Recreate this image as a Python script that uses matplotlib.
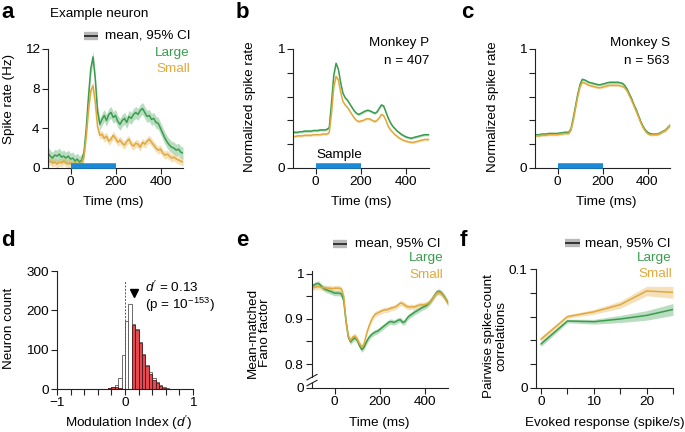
import matplotlib
matplotlib.use("Agg")
import matplotlib.pyplot as plt
from matplotlib.lines import Line2D
import matplotlib.transforms as mtransforms

plt.rcParams['font.family'] = ['Liberation Sans', 'DejaVu Sans']
plt.rcParams['mathtext.fontset'] = 'custom'
plt.rcParams['mathtext.rm'] = 'Liberation Sans'
plt.rcParams['mathtext.it'] = 'Liberation Sans:italic'
plt.rcParams['font.size'] = 9.7
plt.rcParams['axes.unicode_minus'] = True

FS = 9.7
GREEN = "#3a9d4d"
GOLD = "#e0a93c"
BLUE = "#1b8ad6"

# ---------------- data ----------------
time_ms = list(range(-100, 501, 10))
sample_window = [0, 200]

# a: example neuron (Hz)
a_large = [1.5, 1.2, 1.0, 1.3, 1.2, 1.4, 1.1, 1.2, 1.0, 1.2, 0.9, 1.0, 0.7, 0.9, 0.6, 0.8,
           1.6, 4.0, 7.2, 10.0, 11.2, 9.0, 5.8, 4.4, 4.9, 5.3, 4.8, 5.4, 5.6, 5.1, 5.3,
           4.7, 4.4, 4.8, 5.0, 4.6, 5.2, 5.0, 5.4, 5.6, 5.4, 5.8, 6.0, 5.6, 5.2, 5.3,
           4.9, 5.0, 4.6, 4.5, 4.0, 3.5, 3.0, 2.6, 2.3, 2.1, 2.0, 1.8, 1.9, 1.6, 1.5]
a_small = [0.5, 0.7, 0.5, 0.6, 0.4, 0.6, 0.5, 0.7, 0.5, 0.4, 0.5, 0.3, 0.6, 0.4, 0.3, 0.5,
           1.2, 3.2, 5.8, 7.8, 8.3, 6.6, 4.2, 3.3, 3.4, 3.0, 3.2, 2.7, 2.9, 3.3, 3.0,
           2.6, 2.8, 2.5, 2.3, 2.7, 2.9, 2.4, 2.2, 2.5, 2.4, 2.1, 2.6, 2.4, 2.7, 2.9,
           2.6, 2.3, 2.0, 1.8, 1.9, 1.5, 1.3, 1.4, 1.2, 1.0, 1.1, 0.9, 0.8, 0.7, 0.6]
a_ci_large = 0.6
a_ci_small = 0.4

# b: monkey P (normalized)
b_large = [0.30, 0.30, 0.30, 0.305, 0.305, 0.31, 0.31, 0.31, 0.31, 0.315, 0.315, 0.315,
           0.32, 0.32, 0.32, 0.325, 0.34, 0.55, 0.78, 0.88, 0.83, 0.72, 0.63, 0.59, 0.57,
           0.54, 0.51, 0.48, 0.46, 0.45, 0.46, 0.47, 0.48, 0.485, 0.48, 0.47, 0.46, 0.47,
           0.50, 0.53, 0.52, 0.47, 0.42, 0.38, 0.35, 0.33, 0.31, 0.295, 0.28, 0.27, 0.26,
           0.255, 0.25, 0.255, 0.26, 0.265, 0.27, 0.275, 0.28, 0.28, 0.28]
b_small = [0.265, 0.265, 0.27, 0.27, 0.27, 0.275, 0.275, 0.275, 0.275, 0.28, 0.28, 0.28,
           0.28, 0.285, 0.285, 0.285, 0.30, 0.46, 0.68, 0.77, 0.74, 0.64, 0.56, 0.53, 0.51,
           0.48, 0.45, 0.42, 0.40, 0.39, 0.395, 0.40, 0.41, 0.415, 0.41, 0.40, 0.39, 0.40,
           0.42, 0.45, 0.44, 0.40, 0.35, 0.32, 0.30, 0.28, 0.265, 0.25, 0.24, 0.23, 0.225,
           0.22, 0.215, 0.215, 0.22, 0.225, 0.23, 0.235, 0.24, 0.24, 0.24]
b_ci = 0.01

# c: monkey S (normalized)
c_large = [0.28, 0.28, 0.28, 0.285, 0.285, 0.285, 0.29, 0.29, 0.29, 0.29, 0.29, 0.295,
           0.295, 0.30, 0.30, 0.30, 0.33, 0.42, 0.52, 0.62, 0.70, 0.745, 0.74, 0.73, 0.72,
           0.715, 0.71, 0.705, 0.70, 0.70, 0.705, 0.71, 0.715, 0.72, 0.72, 0.72, 0.72, 0.72,
           0.715, 0.71, 0.69, 0.66, 0.62, 0.58, 0.53, 0.49, 0.44, 0.39, 0.35, 0.32, 0.30,
           0.29, 0.285, 0.285, 0.285, 0.29, 0.30, 0.31, 0.32, 0.34, 0.36]
c_small = [0.27, 0.27, 0.27, 0.275, 0.275, 0.275, 0.28, 0.28, 0.28, 0.28, 0.28, 0.285,
           0.285, 0.29, 0.29, 0.29, 0.32, 0.40, 0.50, 0.60, 0.68, 0.72, 0.715, 0.705, 0.695,
           0.69, 0.685, 0.68, 0.675, 0.675, 0.68, 0.685, 0.69, 0.695, 0.695, 0.695, 0.695,
           0.695, 0.69, 0.685, 0.67, 0.645, 0.605, 0.565, 0.52, 0.475, 0.43, 0.38, 0.34,
           0.31, 0.29, 0.28, 0.28, 0.28, 0.28, 0.285, 0.295, 0.305, 0.315, 0.335, 0.355]
c_ci = 0.01

# d: modulation index histogram
d_bin_left = [-0.25, -0.2, -0.15, -0.1, -0.05, 0.0, 0.05, 0.1, 0.15, 0.2, 0.25, 0.3,
              0.35, 0.4, 0.45, 0.5, 0.55, 0.6]
d_all = [2, 5, 9, 28, 86, 173, 216, 165, 152, 120, 90, 62, 42, 28, 17, 10, 5, 3]
d_sig = [2, 5, 6, 3, 0, 0, 0, 163, 150, 117, 86, 58, 38, 24, 14, 8, 3, 1]
d_bin_width = 0.05
d_mean = 0.13

# e: mean-matched Fano factor
e_large = [0.972, 0.975, 0.978, 0.978, 0.973, 0.968, 0.965, 0.963, 0.961, 0.959, 0.957,
           0.957, 0.957, 0.955, 0.94, 0.895, 0.86, 0.849, 0.855, 0.858, 0.852, 0.84, 0.832,
           0.838, 0.849, 0.858, 0.864, 0.868, 0.871, 0.873, 0.877, 0.881, 0.885, 0.889,
           0.893, 0.894, 0.892, 0.894, 0.897, 0.898, 0.892, 0.894, 0.902, 0.907, 0.91,
           0.914, 0.917, 0.92, 0.923, 0.926, 0.928, 0.932, 0.937, 0.944, 0.952, 0.959,
           0.961, 0.958, 0.952, 0.944, 0.935]
e_small = [0.969, 0.97, 0.971, 0.971, 0.97, 0.969, 0.969, 0.968, 0.968, 0.967, 0.968,
           0.968, 0.968, 0.966, 0.95, 0.895, 0.862, 0.852, 0.86, 0.862, 0.855, 0.845, 0.837,
           0.845, 0.866, 0.882, 0.895, 0.905, 0.911, 0.913, 0.916, 0.918, 0.92, 0.92,
           0.922, 0.924, 0.925, 0.927, 0.931, 0.935, 0.934, 0.93, 0.927, 0.926, 0.927,
           0.926, 0.928, 0.93, 0.931, 0.931, 0.932, 0.934, 0.938, 0.944, 0.951, 0.957,
           0.959, 0.956, 0.95, 0.943, 0.934]
e_ci = 0.006
e_floor = 0.747   # bottom of broken axis, labelled "0"

# f: pairwise correlations
f_rate = [0, 5, 10, 15, 20, 25]
f_large = [0.037, 0.0563, 0.0557, 0.058, 0.061, 0.066]
f_small = [0.041, 0.060, 0.064, 0.070, 0.0815, 0.0804]
f_ci = [0.0022, 0.0015, 0.002, 0.003, 0.004, 0.005]

# ---------------- figure ----------------
W, H = 685, 432
fig = plt.figure(figsize=(W / 100, H / 100), dpi=100)


def px(x, y):
    return x / W, 1 - y / H


def add_ax(left, right, top, bottom):
    ax = fig.add_axes([left / W, 1 - bottom / H, (right - left) / W, (bottom - top) / H])
    for s in ("top", "right"):
        ax.spines[s].set_visible(False)
    for s in ("left", "bottom"):
        ax.spines[s].set_linewidth(0.8)
        ax.spines[s].set_color("#222222")
    ax.tick_params(direction="out", length=4, width=0.8, pad=2, labelsize=FS,
                   color="#222222")
    return ax


def ftext(x, y, s, **kw):
    kw.setdefault("fontsize", FS)
    fig.text(*px(x, y), s, **kw)


def band(ax, x, y, ci, color):
    cis = ci if isinstance(ci, list) else [ci] * len(y)
    lo = [v - c for v, c in zip(y, cis)]
    hi = [v + c for v, c in zip(y, cis)]
    ax.fill_between(x, lo, hi, color=color, alpha=0.35, lw=0)
    ax.plot(x, y, color=color, lw=1.1)


def sample_bar(ax):
    tr = mtransforms.offset_copy(ax.transData, fig=fig, y=2, units="dots")
    ax.plot(sample_window, [0, 0], color=BLUE, lw=4, solid_capstyle="butt",
            transform=tr, clip_on=False, zorder=5)


def legend_ci(x0, x1, y, tx, tx_end, ly, sy):
    fig.add_artist(Line2D([x0 / W, x1 / W], [1 - y / H] * 2, color="#b8b8b8", lw=6,
                          solid_capstyle="butt"))
    fig.add_artist(Line2D([x0 / W, x1 / W], [1 - y / H] * 2, color="#333333", lw=1.4,
                          solid_capstyle="butt"))
    ftext(tx, y, "mean, 95% CI", ha="left", va="center")
    ftext(tx_end, ly, "Large", ha="right", va="center", color=GREEN)
    ftext(tx_end, sy, "Small", ha="right", va="center", color=GOLD)


# panel letters
for letter, (lx, ly) in zip("abcdef", [(1, 12), (236, 12), (461, 12),
                                       (1, 240), (236, 240), (460, 240)]):
    ftext(lx, ly, letter, fontsize=16, fontweight="bold", ha="left", va="center")

# ---- a ----
ax = add_ax(48, 183, 49, 168)
band(ax, time_ms, a_large, a_ci_large, GREEN)
band(ax, time_ms, a_small, a_ci_small, GOLD)
sample_bar(ax)
ax.set_xlim(-100, 500)
ax.set_ylim(0, 12)
ax.set_xticks([0, 200, 400])
ax.set_yticks([0, 4, 8, 12])
ftext(50, 14, "Example neuron", ha="left", va="center")
legend_ci(84, 98, 36, 105, 190, 53, 69)
ftext(9, 99, "Spike rate (Hz)", rotation=90, ha="center", va="center")
ftext(113, 202, "Time (ms)", ha="center", va="center")

# ---- b ----
ax = add_ax(293, 429, 49, 168)
band(ax, time_ms, b_large, b_ci, GREEN)
band(ax, time_ms, b_small, b_ci, GOLD)
sample_bar(ax)
ax.set_xlim(-100, 500)
ax.set_ylim(0, 1)
ax.set_xticks([0, 200, 400])
ax.set_yticks([0, 0.2, 0.4, 0.6, 0.8, 1.0])
ax.set_yticklabels(["0", "", "", "", "", "1"])
ax.text(105, 0.11, "Sample", ha="center", va="center")
ftext(429, 43, "Monkey P", ha="right", va="center")
ftext(429, 61, "n = 407", ha="right", va="center")
ftext(250, 107, "Normalized spike rate", rotation=90, ha="center", va="center")
ftext(361, 202, "Time (ms)", ha="center", va="center")

# ---- c ----
ax = add_ax(535, 670, 49, 168)
band(ax, time_ms, c_large, c_ci, GREEN)
band(ax, time_ms, c_small, c_ci, GOLD)
sample_bar(ax)
ax.set_xlim(-100, 500)
ax.set_ylim(0, 1)
ax.set_xticks([0, 200, 400])
ax.set_yticks([0, 0.2, 0.4, 0.6, 0.8, 1.0])
ax.set_yticklabels(["0", "", "", "", "", "1"])
ftext(670, 43, "Monkey S", ha="right", va="center")
ftext(670, 61, "n = 563", ha="right", va="center")
ftext(493, 107, "Normalized spike rate", rotation=90, ha="center", va="center")
ftext(606, 202, "Time (ms)", ha="center", va="center")

# ---- d ----
ax = add_ax(57, 193, 271, 389)
ax.bar(d_bin_left, d_all, width=d_bin_width, align="edge", color="white",
       edgecolor="#555555", lw=0.6)
ax.bar(d_bin_left, d_sig, width=d_bin_width, align="edge", color="#e34a50",
       edgecolor="#3a1010", lw=0.5)
ax.plot([0, 0], [0, 275], ls=(0, (2, 1.5)), color="#555555", lw=0.7)
ax.plot([d_mean], [243], marker="v", color="black", ms=6, ls="none")
ax.text(0.29, 258, "$d'$ = 0.13", ha="left", va="center")
ax.text(0.29, 215, "(p = 10$^{-153}$)", ha="left", va="center")
ax.set_xlim(-1, 1)
ax.set_ylim(0, 300)
ax.set_xticks([-1, -0.8, -0.6, -0.4, -0.2, 0, 0.2, 0.4, 0.6, 0.8, 1])
ax.set_xticklabels(["\u22121", "", "", "", "", "0", "", "", "", "", "1"])
ax.set_yticks([0, 100, 200, 300])
ftext(9, 328, "Neuron count", rotation=90, ha="center", va="center")
ftext(129, 423, "Modulation Index ($d'$)", ha="center", va="center")

# ---- e ----
ax = add_ax(312, 448, 271, 388)
band(ax, time_ms, e_large, e_ci, GREEN)
band(ax, time_ms, e_small, e_ci, GOLD)
ax.set_xlim(-100, 500)
ax.set_ylim(e_floor, 1.006)
ax.set_xticks([0, 200, 400])
ax.set_yticks([e_floor, 0.8, 0.85, 0.9, 0.95, 1.0])
ax.set_yticklabels(["0", "0.8", "", "0.9", "", "1"])
# axis break
ax.spines["left"].set_bounds(0.771, 1.006)
ax.plot([-100, -100], [e_floor, 0.758], color="#222222", lw=0.8, clip_on=False)
for yb in (0.771, 0.758):
    ax.plot([-122, -78], [yb - 0.006, yb + 0.006], color="#222222", lw=0.8,
            clip_on=False)
legend_ci(333, 347, 244, 355, 443, 258, 275)
ftext(259, 333, "Mean-matched\nFano factor", rotation=90, ha="center", va="center",
      linespacing=1.05)
ftext(379, 423, "Time (ms)", ha="center", va="center")

# ---- f ----
ax = add_ax(536, 673, 269, 388)
band(ax, f_rate, f_large, f_ci, GREEN)
band(ax, f_rate, f_small, f_ci, GOLD)
ax.set_xlim(-0.95, 25)
ax.set_ylim(0, 0.1)
ax.set_xticks([0, 5, 10, 15, 20, 25])
ax.set_xticklabels(["0", "", "10", "", "20", ""])
ax.set_yticks([0, 0.02, 0.04, 0.06, 0.08, 0.1])
ax.set_yticklabels(["0", "", "", "", "", "0.1"])
legend_ci(565, 580, 243, 585, 672, 258, 274)
ftext(495, 336, "Pairwise spike-count\ncorrelations", rotation=90, ha="center",
      va="center", linespacing=1.05)
ftext(605, 423, "Evoked response (spike/s)", ha="center", va="center")

fig.savefig("out.png", dpi=100)
